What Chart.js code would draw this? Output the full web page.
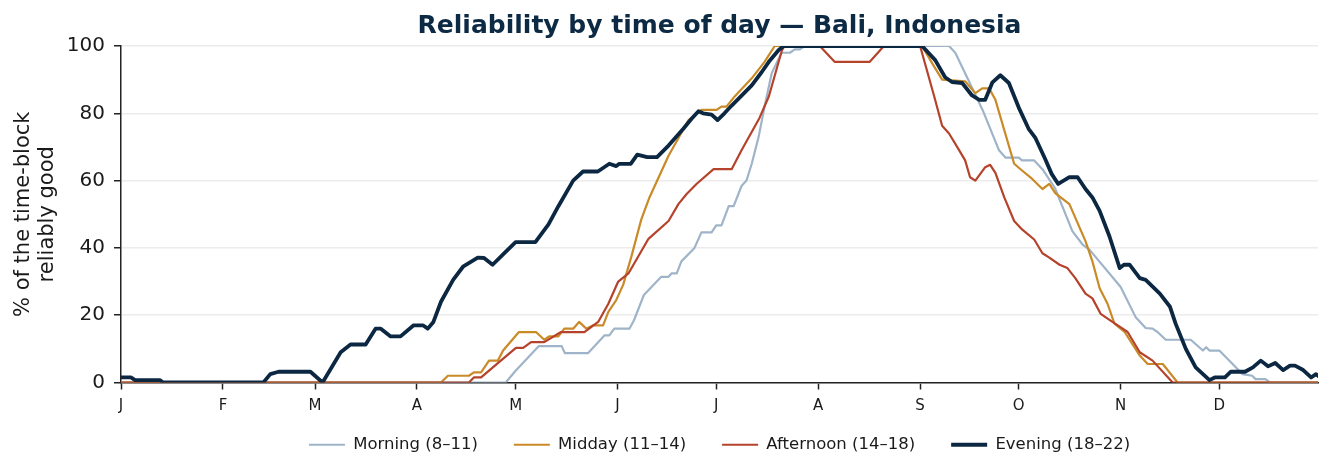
<!DOCTYPE html>
<html>
<head>
<meta charset="utf-8">
<script src="https://cdn.jsdelivr.net/npm/chart.js@4"></script>
<style>
  html, body { margin: 0; padding: 0; background: #fff; }
  #wrap { width: 1333px; height: 475px; }
</style>
</head>
<body>
<div id="wrap"><canvas id="chart" width="1333" height="475"></canvas></div>
<script>
// day of year (0 = Jan 1) and % reliably good
const monthStarts = [0, 31, 59, 90, 120, 151, 181, 212, 243, 273, 304, 334];
const monthLabels = ['J', 'F', 'M', 'A', 'M', 'J', 'J', 'A', 'S', 'O', 'N', 'D'];

const morningDays = [0, 117, 120, 127, 134, 135, 142, 147, 148.5, 150, 154.6, 156, 159, 164.3, 166.5, 167.4, 169, 170.4, 174.4, 176.5, 179.6, 181, 182.6, 184.8, 186.3, 188.7, 190.2, 191.8, 193.9, 195.7, 197.9, 200.9, 203.4, 204.9, 206.4, 208, 251.8, 253.7, 258, 262, 267, 269, 273, 274, 277.7, 280.2, 284, 289.3, 292.4, 294.5, 304, 308.5, 311.6, 313.7, 315.2, 317.7, 325.3, 329, 330, 331, 334, 341, 344, 345, 348, 349.4, 364];
const morningVals = [0, 0, 3.5, 10.8, 10.8, 8.7, 8.7, 14, 14, 16, 16, 18.5, 26, 31.4, 31.4, 32.4, 32.4, 36, 40, 44.6, 44.6, 46.7, 46.7, 52.4, 52.4, 58.4, 60, 65, 73, 82, 92, 98, 98, 99, 99, 100, 100, 98, 89.2, 81, 69, 66.8, 66.8, 66, 66, 63.4, 57.8, 45, 41, 39.5, 28.4, 19.5, 16.2, 16, 15, 12.7, 12.7, 9.5, 10.5, 9.5, 9.5, 2.5, 2, 1, 1, 0, 0];

const middayDays = [0, 97.3, 99.4, 105.8, 107.3, 109.5, 111.9, 114.6, 116.2, 121, 126.2, 128.7, 130.2, 133, 134.8, 137.5, 139.3, 141.5, 143.6, 146.6, 148.2, 150.6, 152.7, 155.2, 158.2, 160.7, 166.5, 172.6, 176.5, 181.1, 182.6, 184.1, 186.6, 191.8, 195.7, 198.8, 243.6, 246.6, 249.7, 256.7, 259.8, 261.9, 264, 265.9, 271.6, 274, 277.1, 280.2, 282.3, 284.1, 288.4, 293.3, 295.4, 297.6, 300, 302.1, 305.2, 309.8, 312.2, 316.8, 321.3, 364];
const middayVals = [0, 0, 2, 2, 3, 3, 6.5, 6.5, 9.5, 15, 15, 12.7, 13.7, 13.7, 16, 16, 18, 16, 17, 17, 21, 24.5, 29, 37.4, 48.4, 55, 67.4, 78, 81, 81, 82, 82, 85, 90.4, 95.3, 100, 100, 95, 90, 89.5, 86, 87.4, 87.4, 84, 65, 63, 60.5, 57.5, 59, 56.3, 53, 42, 36, 28, 23.4, 17.5, 15, 8, 5.5, 5.5, 0, 0];

const afternoonDays = [0, 105.8, 107.3, 109.5, 115.5, 120.1, 122.3, 124.7, 128.7, 133.8, 140.9, 145.1, 148.2, 151.2, 154.3, 160.4, 166.5, 169.5, 172, 175, 180.2, 185.7, 188.7, 194.2, 197, 201, 201.8, 212.5, 217, 227.7, 232, 243, 247.3, 249.7, 251.8, 254.9, 256.7, 258.2, 259.8, 262.8, 264.3, 265.9, 268.6, 271.6, 274, 277.7, 280.2, 282.3, 285.4, 287.8, 290.2, 293.3, 295.4, 297.9, 301.5, 304.6, 306.1, 309.8, 313.7, 319.8, 364];
const afternoonVals = [0, 0, 1.5, 1.5, 6.5, 10.3, 10.3, 12, 12, 15, 15, 18, 23.4, 30, 32.4, 42.7, 48, 53, 56, 59, 63.4, 63.4, 69, 78.7, 85, 98.8, 100, 100, 95.3, 95.3, 100, 100, 85, 76.3, 74, 69, 66, 61, 60, 64, 64.7, 62.3, 55, 48, 45.5, 42.5, 38.4, 37.1, 35, 34, 31, 26.4, 25, 20.4, 18, 16, 15, 9, 6.5, 0, 0];

const eveningDays = [0, 3, 4.3, 11.9, 12.8, 43.3, 45.4, 47.9, 57.6, 61.3, 66.8, 69.8, 74.4, 77.4, 79, 82, 85, 89, 91.8, 93.3, 95, 97.3, 101, 104, 108.5, 110.4, 113, 116.5, 120, 126, 130, 133, 137.5, 140.5, 145, 148.5, 150.6, 151.5, 155, 157, 160, 163, 166.5, 171, 173.5, 175.6, 177, 179.6, 181.4, 183.5, 185.7, 191.8, 194.8, 197, 200, 201.5, 243.6, 247.6, 250.6, 252.7, 255.8, 258.8, 261, 262.8, 265, 267.4, 270, 273, 276, 278, 281, 283, 285, 288.4, 290.9, 293.3, 295.4, 297.6, 300.6, 303.7, 305, 306.7, 309.8, 311.6, 315.9, 319, 320.7, 323.8, 326.8, 331, 332.6, 335.7, 337.5, 341.8, 344.2, 346.6, 348.8, 351, 353.4, 355.5, 357, 359.5, 361.9, 363.4, 364.6];
const eveningVals = [1.5, 1.5, 0.7, 0.7, 0, 0, 2.5, 3.2, 3.2, 0, 9, 11.3, 11.3, 16, 16, 13.7, 13.7, 17, 17, 16, 18, 24, 30.5, 34.4, 37.1, 37, 35, 38.4, 41.7, 41.7, 47, 52.4, 60, 62.7, 62.7, 65, 64.3, 65, 65, 67.7, 67, 67, 70.4, 75.4, 78.4, 80.6, 80, 79.6, 78, 80, 82.3, 88.3, 92.2, 95.3, 98.8, 100, 100, 95.8, 90.7, 89.3, 89, 85.3, 84, 84, 89.2, 91.3, 89, 81.7, 75.4, 72.8, 66.5, 62, 59, 61, 61, 57.5, 55, 51, 43.4, 34, 35, 35, 31, 30.5, 26.4, 22.5, 17.5, 10, 4.5, 0.7, 1.5, 1.5, 3.2, 3.2, 4.5, 6.5, 4.8, 5.8, 3.7, 5, 5, 3.7, 1.5, 2.5, 1.5];

const toPoints = (days, vals) => days.map((d, i) => ({ x: d, y: vals[i] }));

// centre title and legend over the plot area, like the original;
// the x axis box is kept short for layout, so widen its label clip area again
const centerOnPlot = {
  id: 'centerOnPlot',
  afterLayout(chart) {
    const a = chart.chartArea;
    if (chart.titleBlock) { chart.titleBlock.left = a.left; chart.titleBlock.right = a.right; }
    if (chart.legend) { chart.legend.left = a.left; chart.legend.right = a.right; }
    const x = chart.scales.x;
    x.bottom = x.top + 44;
  }
};

new Chart(document.getElementById('chart'), {
  type: 'line',
  data: {
    datasets: [
      { label: 'Morning (8–11)', data: toPoints(morningDays, morningVals), borderColor: '#9fb4c8', borderWidth: 2.2, order: 3 },
      { label: 'Midday (11–14)', data: toPoints(middayDays, middayVals), borderColor: '#c98a27', borderWidth: 2.2, order: 2 },
      { label: 'Afternoon (14–18)', data: toPoints(afternoonDays, afternoonVals), borderColor: '#b5432c', borderWidth: 2.2, order: 1 },
      { label: 'Evening (18–22)', data: toPoints(eveningDays, eveningVals), borderColor: '#0c2742', borderWidth: 3.8, order: 0 },
    ],
  },
  options: {
    responsive: false,
    animation: false,
    layout: { padding: { left: 0, right: 15, top: 0, bottom: 12 } },
    elements: { point: { radius: 0 }, line: { tension: 0, borderJoinStyle: 'round', borderCapStyle: 'round' } },
    plugins: {
      title: {
        display: true,
        text: 'Reliability by time of day — Bali, Indonesia',
        color: '#0d2a45',
        font: { family: 'DejaVu Sans', size: 25, weight: 'bold' },
        padding: { top: 11, bottom: 5 },
      },
      legend: {
        position: 'bottom',
        labels: {
          usePointStyle: true,
          pointStyle: 'line',
          pointStyleWidth: 36,
          padding: 36,
          color: '#1a1a1a',
          font: { family: 'DejaVu Sans', size: 16.5 },
          sort: (a, b) => a.datasetIndex - b.datasetIndex,
        },
      },
      tooltip: { enabled: false },
    },
    scales: {
      x: {
        type: 'linear',
        min: 0,
        max: 364,
        afterBuildTicks: scale => { scale.ticks = monthStarts.map(v => ({ value: v })); },
        afterFit: scale => { scale.height = 18; },
        ticks: {
          callback: v => monthLabels[monthStarts.indexOf(v)],
          color: '#1a1a1a',
          font: { family: 'DejaVu Sans', size: 15 },
          padding: 8,
          maxRotation: 0,
          autoSkip: false,
        },
        grid: { drawOnChartArea: false, drawTicks: true, tickLength: 7, tickColor: '#222', tickWidth: 1.5 },
        border: { display: true, color: '#222', width: 1.5 },
      },
      y: {
        min: 0,
        max: 100,
        afterFit: scale => { scale.width = 121; },
        ticks: { stepSize: 20, color: '#1a1a1a', font: { family: 'DejaVu Sans', size: 20 }, padding: 9 },
        grid: { color: '#ececec', lineWidth: 1.5, tickLength: 7, tickColor: '#222', tickWidth: 1.5 },
        border: { display: true, color: '#222', width: 1.5 },
        title: {
          display: true,
          text: ['% of the time-block', 'reliably good'],
          color: '#1a1a1a',
          font: { family: 'DejaVu Sans', size: 21, lineHeight: 1.15 },
          padding: { top: 11, bottom: 0 },
        },
      },
    },
  },
  plugins: [centerOnPlot],
});
</script>
</body>
</html>
